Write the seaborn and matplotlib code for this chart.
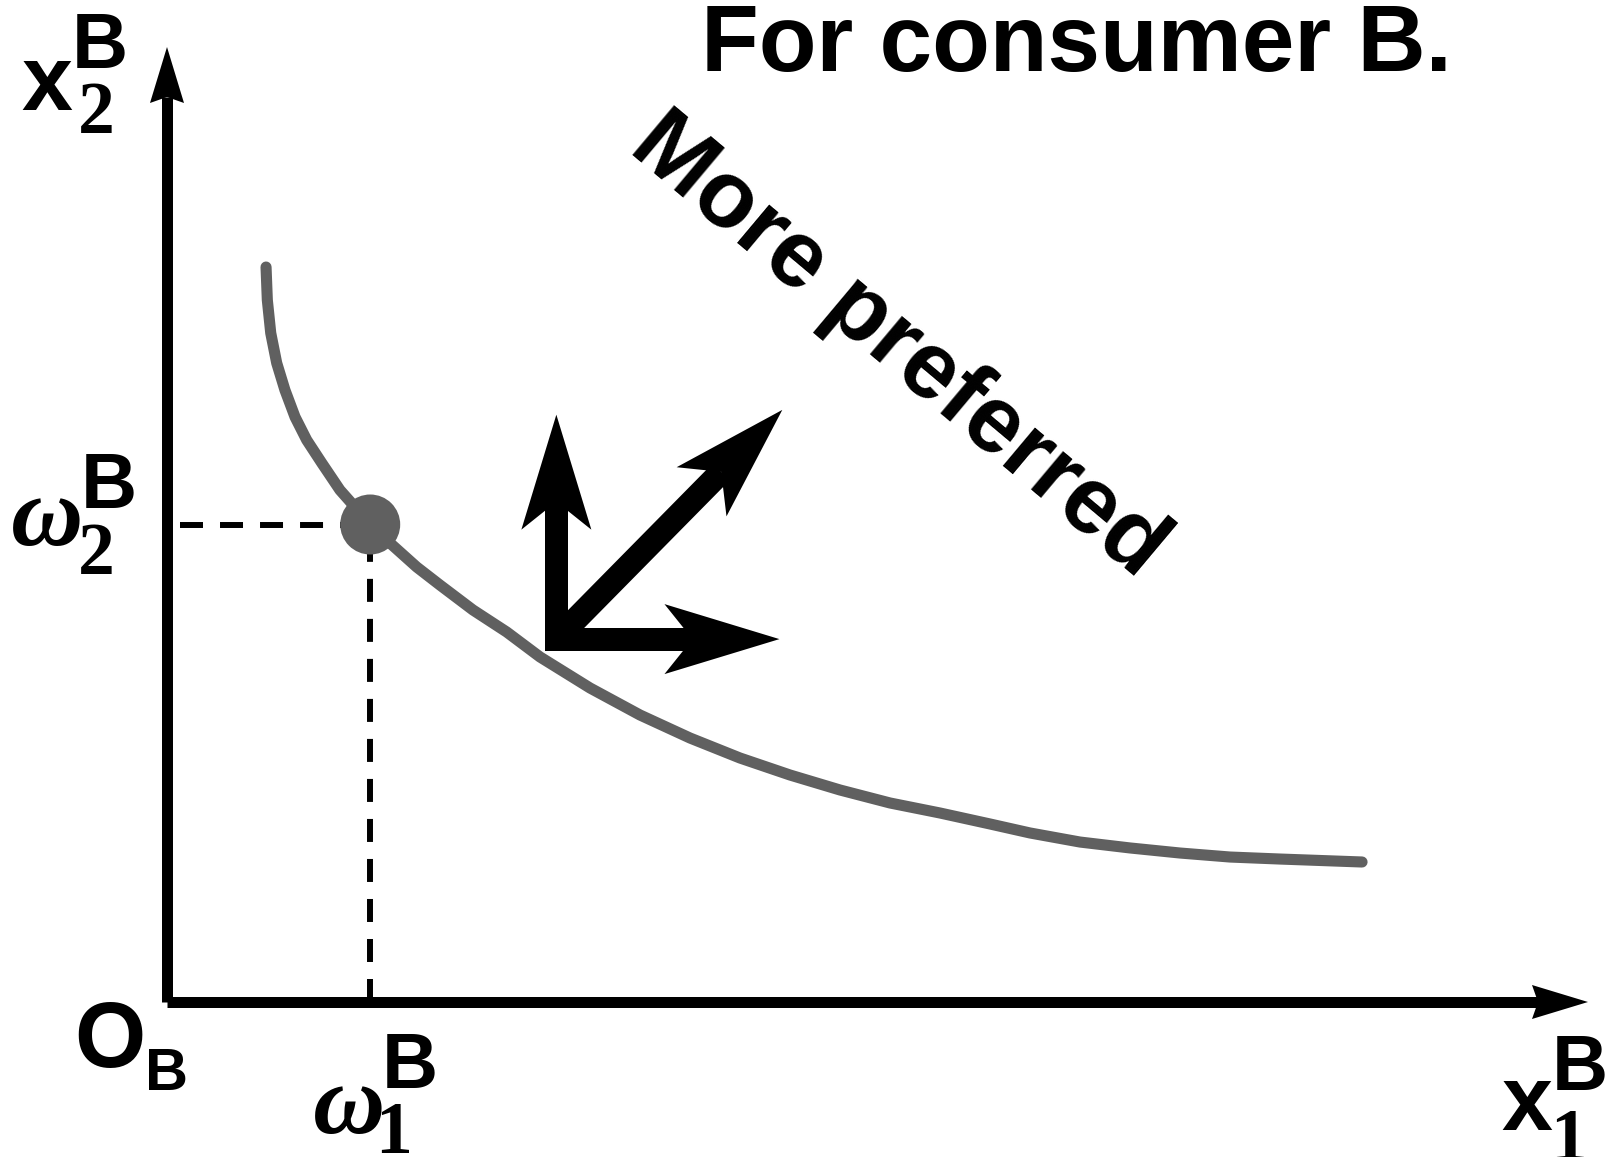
import numpy as np
import matplotlib
matplotlib.use("Agg")
import matplotlib.pyplot as plt
import seaborn as sns
from matplotlib.patches import Polygon

# ---------------- data (goods units of consumer B) ----------------
curve_x1 = [0.697, 0.706, 0.730, 0.772, 0.830, 0.901, 0.983, 1.089, 1.217,
            1.429, 1.569, 1.757, 1.921, 2.153, 2.391, 2.625, 2.977, 3.329,
            3.681, 4.032, 4.384, 4.736, 5.088, 5.440, 5.792, 6.073, 6.425,
            6.777, 7.129, 7.481, 7.833, 8.410]
curve_x2 = [7.696, 7.351, 7.005, 6.691, 6.408, 6.126, 5.885, 5.644, 5.361,
            5.005, 4.806, 4.555, 4.366, 4.105, 3.874, 3.613, 3.288, 3.005,
            2.764, 2.555, 2.377, 2.220, 2.084, 1.979, 1.864, 1.770, 1.675,
            1.613, 1.560, 1.518, 1.497, 1.466]
endow_x1 = [1.43]
endow_x2 = [5.00]
axis_max = 10.0
pref_origin = (2.74, 3.80)
pref_tips = [(2.74, 6.15), (4.31, 3.80), (4.33, 6.20)]

title_text = "For consumer B."
pref_text = "More preferred"

# ---------------- figure ----------------
sns.set_theme(style="white")
plt.rcParams["font.family"] = ["Liberation Sans", "DejaVu Sans"]
plt.rcParams["text.color"] = "black"

W, H = 1610, 1157
fig = plt.figure(figsize=(W / 100, H / 100), dpi=100)
fig.patch.set_facecolor("white")
ax = fig.add_axes([0, 0, 1, 1])
ux, uy = 142.1, 95.5          # pixels per unit
ox, oy = 167, 1002             # origin pixel
ax.set_xlim(-ox / ux, (W - ox) / ux)
ax.set_ylim(-(H - oy) / uy, oy / uy)
ax.axis("off")

GRAY = "#606060"


def notched_arrow(start, end, lw_px, head_len, head_w, notch, cap="butt", z=5):
    T = ax.transData
    p0 = T.transform(start)
    p1 = T.transform(end)
    d = p1 - p0
    u = d / np.hypot(*d)
    n = np.array([-u[1], u[0]])
    base = p1 - u * head_len
    inner = p1 - u * (head_len - notch)
    pts = np.array([p1, base + n * head_w / 2, inner, base - n * head_w / 2])
    inv = T.inverted()
    shaft = inv.transform(np.array([p0, inner]))
    ax.plot(shaft[:, 0], shaft[:, 1], color="black", lw=lw_px * 0.72,
            solid_capstyle=cap, zorder=z)
    ax.add_patch(Polygon(inv.transform(pts), closed=True, facecolor="black",
                         edgecolor="none", zorder=z))


# axes with arrows
notched_arrow((0, 0), (0, axis_max), 11, 56, 34, 6)
notched_arrow((0, 0), (axis_max, 0), 11, 56, 34, 6)

# dashed guides
ax.plot([0.09, endow_x1[0]], [endow_x2[0], endow_x2[0]], color="black", lw=4.3,
        linestyle=(0, (3.85, 2.85)), zorder=3)
ax.plot([endow_x1[0], endow_x1[0]], [0, endow_x2[0]], color="black", lw=4.3,
        linestyle=(0, (3.85, 2.85)), zorder=3)

# indifference curve
ax.plot(curve_x1, curve_x2, color=GRAY, linewidth=8, solid_capstyle="round",
        solid_joinstyle="round", zorder=4)

# endowment point
sns.scatterplot(x=endow_x1, y=endow_x2, ax=ax, color=GRAY, s=43.2 ** 2,
                edgecolor="none", zorder=6)

# preference arrows
notched_arrow(pref_origin, pref_tips[0], 23, 115, 70, 28, cap="projecting", z=7)
notched_arrow(pref_origin, pref_tips[1], 23, 115, 70, 28, cap="projecting", z=7)
notched_arrow(pref_origin, pref_tips[2], 24, 115, 70, 28, cap="butt", z=7)


# ---------------- text ----------------
def ftxt(px, py, s, **kw):
    fig.text(px / W, 1 - py / H, s, va="baseline", ha="left", color="black", **kw)


SANS = ["Liberation Sans", "DejaVu Sans"]
SERIF = ["Liberation Serif", "DejaVu Serif"]

ftxt(701, 71, title_text, family=SANS, weight="bold", fontsize=68)

fig.text(882 / W, 1 - 365 / H, pref_text, family=SANS, weight="bold",
         fontsize=68, rotation=-40, rotation_mode="anchor",
         ha="center", va="baseline", color="black")

# x2^B
ftxt(21, 110, "x", family=SANS, weight="bold", fontsize=66)
ftxt(72, 68, "B", family=SANS, weight="bold", fontsize=56)
ftxt(78, 133, "2", family=SERIF, weight="bold", fontsize=53)

# x1^B
ftxt(1501, 1130, "x", family=SANS, weight="bold", fontsize=66)
ftxt(1552, 1090, "B", family=SANS, weight="bold", fontsize=56)
ftxt(1550, 1160, "1", family=SERIF, weight="bold", fontsize=53)

# omega2^B
ftxt(11, 545, "ω", family=SERIF, weight="bold", style="italic", fontsize=72)
ftxt(81, 508, "B", family=SANS, weight="bold", fontsize=56)
ftxt(78, 574, "2", family=SERIF, weight="bold", fontsize=53)

# omega1^B
ftxt(313, 1133, "ω", family=SERIF, weight="bold", style="italic", fontsize=72)
ftxt(382, 1088, "B", family=SANS, weight="bold", fontsize=56)
ftxt(375, 1153, "1", family=SERIF, weight="bold", fontsize=53)

# O_B
ftxt(74, 1067, "O", family=SANS, weight="bold", fontsize=66)
ftxt(145, 1090, "B", family=SANS, weight="bold", fontsize=43)

fig.savefig("out.png", dpi=100, facecolor="white")
